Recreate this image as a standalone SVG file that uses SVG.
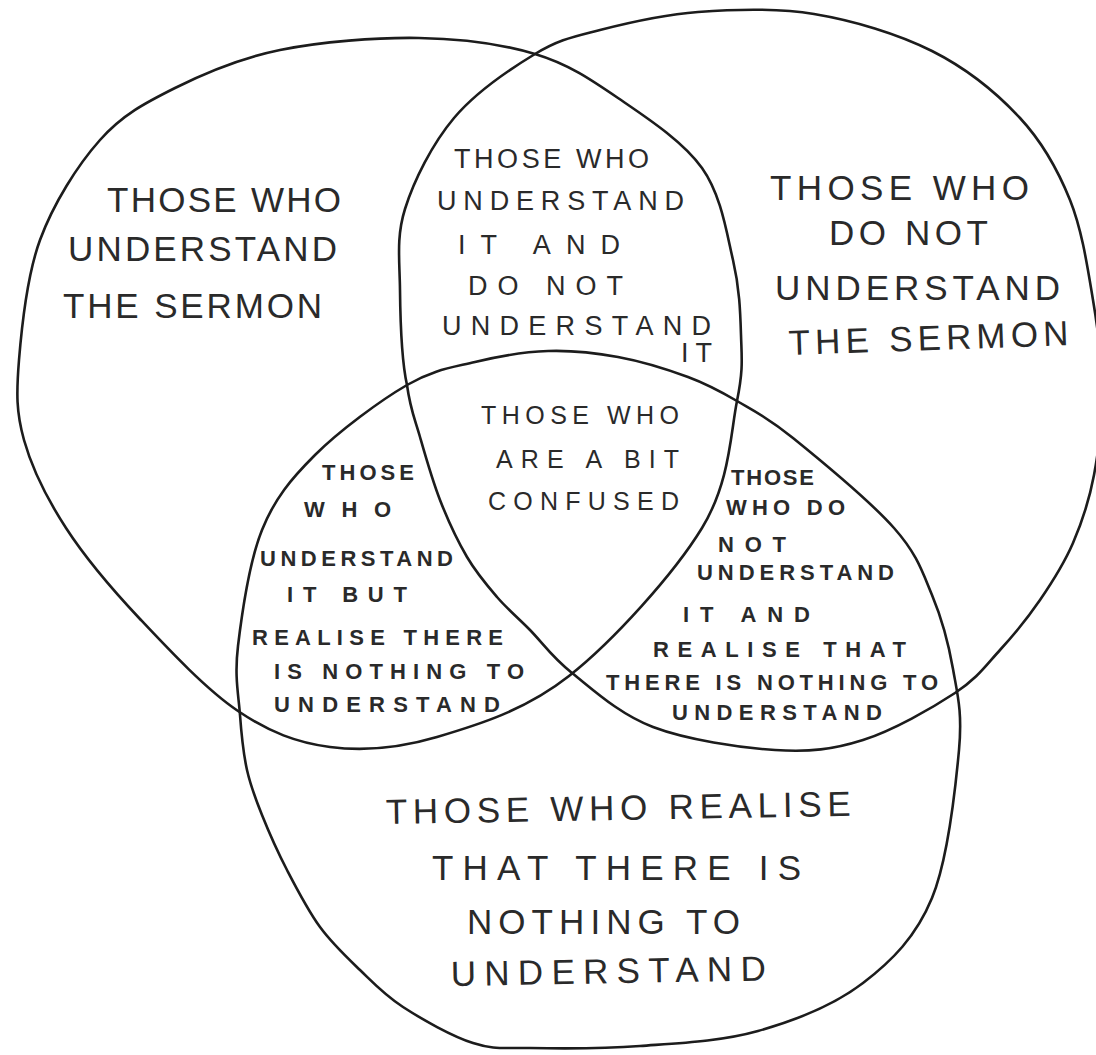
<svg xmlns="http://www.w3.org/2000/svg" width="1096" height="1055" viewBox="0 0 1096 1055">
<style>
.set{fill:none;stroke:#1c1c1c;stroke-width:2.6;stroke-linejoin:round;stroke-linecap:round}
.t{font-family:"Liberation Sans",Arial,sans-serif;fill:#2a2a2a;}
.xl{font-size:35px}
.l{font-size:27px}
.m{font-size:25px}
.s{font-size:22px;font-weight:bold}
</style>
<rect width="1096" height="1055" fill="#ffffff"/>
<g id="connectors">
<path id="set-understand" class="set" d="M 419 38 C 461.5 38.7, 501.8 44, 535 54 C 568.2 64, 590.2 79, 618 98 C 645.8 117, 682.8 141, 702 168 C 721.2 195, 726.5 232.2, 733 260 C 739.5 287.8, 740.3 311.5, 741 335 C 741.7 358.5, 743.5 368.8, 737 401 C 730.5 433.2, 730 482.2, 702 528 C 674 573.8, 613.2 641.2, 569 676 C 524.8 710.8, 476.8 725.2, 437 737 C 397.2 748.8, 363.2 751.3, 330 747 C 296.8 742.7, 269.7 732.3, 238 711 C 206.3 689.7, 168.7 649.5, 140 619 C 111.3 588.5, 85.3 557.8, 66 528 C 46.7 498.2, 31.8 468, 24 440 C 16.2 412, 16.3 393.3, 19 360 C 21.7 326.7, 26.5 276.7, 40 240 C 53.5 203.3, 77.5 165.3, 100 140 C 122.5 114.7, 145 103, 175 88 C 205 73, 239.3 58.3, 280 50 C 320.7 41.7, 376.5 37.3, 419 38 Z"/>
<path id="set-not-understand" class="set" d="M 535 54 C 559.3 39.3, 572.8 37, 600 30 C 627.2 23, 662.3 14.7, 698 12 C 733.7 9.3, 775 7.5, 814 14 C 853 20.5, 897.7 33.7, 932 51 C 966.3 68.3, 997 93.2, 1020 118 C 1043 142.8, 1057.8 169.7, 1070 200 C 1082.2 230.3, 1087.7 268.3, 1093 300 C 1098.3 331.7, 1101.8 360.8, 1102 390 C 1102.2 419.2, 1098.8 449.5, 1094 475 C 1089.2 500.5, 1082 522.2, 1073 543 C 1064 563.8, 1052.2 582.2, 1040 600 C 1027.8 617.8, 1014.2 634.5, 1000 650 C 985.8 665.5, 977.8 678, 955 693 C 932.2 708, 893 730.5, 863 740 C 833 749.5, 810 752.2, 775 750 C 740 747.8, 686.8 739.8, 653 727 C 619.2 714.2, 592.5 689.2, 572 673 C 551.5 656.8, 542.5 642.7, 530 630 C 517.5 617.3, 507.5 609.2, 497 597 C 486.5 584.8, 476.5 573.2, 467 557 C 457.5 540.8, 447.8 520, 440 500 C 432.2 480, 425.5 456.2, 420 437 C 414.5 417.8, 410.3 409.5, 407 385 C 401.5 360.5, 400.3 319.3, 400 290 C 399.7 260.7, 396 237.7, 405 209 C 414 180.3, 432.3 143.8, 454 118 C 475.7 92.2, 510.7 68.7, 535 54 Z"/>
<path id="set-realise" class="set" d="M 548 351 C 571.8 350.2, 594.7 352.7, 618 357 C 641.3 361.3, 668.2 369.7, 688 377 C 707.8 384.3, 719.5 390.8, 737 401 C 754.5 411.2, 766.8 416.8, 793 438 C 819.2 459.2, 870.8 501.8, 894 528 C 917.2 554.2, 922.2 571.5, 932 595 C 941.8 618.5, 948.5 643.2, 953 669 C 957.5 694.8, 962.5 711.8, 959 750 C 955.5 788.2, 948 859.2, 932 898 C 916 936.8, 892 960.8, 863 983 C 834 1005.2, 795.2 1020.5, 758 1031 C 720.8 1041.5, 678 1043.2, 640 1046 C 602 1048.8, 557.8 1048.5, 530 1048 C 502.2 1047.5, 494.2 1049.8, 473 1043 C 451.8 1036.2, 421.8 1019.2, 403 1007 C 384.2 994.8, 373.8 983.3, 360 970 C 346.2 956.7, 332.2 943.7, 320 927 C 307.8 910.3, 296.7 888.7, 287 870 C 277.3 851.3, 268.7 831.7, 262 815 C 255.3 798.3, 250.7 786.7, 247 770 C 243.3 753.3, 241.5 735.7, 240 715 C 238.5 694.3, 234.3 676.8, 238 646 C 241.7 615.2, 249.2 561.8, 262 530 C 274.8 498.2, 290.8 479.2, 315 455 C 339.2 430.8, 380.3 400.5, 407 385 C 433.7 369.5, 451.5 367.7, 475 362 C 498.5 356.3, 524.2 351.8, 548 351 Z"/>
</g>
<g id="node-understand" class="t xl">
<text x="107" y="212" textLength="234" lengthAdjust="spacing">THOSE WHO</text>
<text x="68" y="261" textLength="269" lengthAdjust="spacing">UNDERSTAND</text>
<text x="63" y="318" textLength="259" lengthAdjust="spacing">THE SERMON</text>
</g>
<g id="node-not-understand" class="t xl">
<text x="770" y="200" textLength="259" lengthAdjust="spacing">THOSE WHO</text>
<text x="829" y="245" textLength="159" lengthAdjust="spacing">DO NOT</text>
<text x="775" y="300" textLength="285" lengthAdjust="spacing">UNDERSTAND</text>
<text x="789" y="355" textLength="280" lengthAdjust="spacing" transform="rotate(-2 789 355)">THE SERMON</text>
</g>
<g id="node-both" class="t l">
<text x="454" y="168" textLength="195" lengthAdjust="spacing">THOSE WHO</text>
<text x="437" y="210" textLength="247" lengthAdjust="spacing">UNDERSTAND</text>
<text x="458" y="254" textLength="162" lengthAdjust="spacing">IT AND</text>
<text x="468" y="295" textLength="155" lengthAdjust="spacing">DO NOT</text>
<text x="442" y="335" textLength="269" lengthAdjust="spacing">UNDERSTAND</text>
<text x="681" y="362" textLength="31" lengthAdjust="spacing">IT</text>
</g>
<g id="node-confused" class="t m">
<text x="481" y="424" textLength="198" lengthAdjust="spacing">THOSE WHO</text>
<text x="496" y="468" textLength="183" lengthAdjust="spacing">ARE A BIT</text>
<text x="488" y="510" textLength="191" lengthAdjust="spacing">CONFUSED</text>
</g>
<g id="node-understand-realise" class="t s">
<text x="322" y="480" textLength="92" lengthAdjust="spacing">THOSE</text>
<text x="304" y="517" textLength="87" lengthAdjust="spacing">WHO</text>
<text x="260" y="566" textLength="193" lengthAdjust="spacing">UNDERSTAND</text>
<text x="287" y="602" textLength="120" lengthAdjust="spacing">IT BUT</text>
<text x="252" y="645" textLength="251" lengthAdjust="spacing">REALISE THERE</text>
<text x="274" y="679" textLength="250" lengthAdjust="spacing">IS NOTHING TO</text>
<text x="274" y="712" textLength="226" lengthAdjust="spacing">UNDERSTAND</text>
</g>
<g id="node-not-understand-realise" class="t s">
<text x="731" y="485" textLength="83" lengthAdjust="spacing">THOSE</text>
<text x="726" y="515" textLength="119" lengthAdjust="spacing">WHO DO</text>
<text x="718" y="552" textLength="68" lengthAdjust="spacing">NOT</text>
<text x="697" y="580" textLength="197" lengthAdjust="spacing">UNDERSTAND</text>
<text x="683" y="622" textLength="127" lengthAdjust="spacing">IT AND</text>
<text x="653" y="657" textLength="253" lengthAdjust="spacing">REALISE THAT</text>
<text x="606" y="690" textLength="332" lengthAdjust="spacing">THERE IS NOTHING TO</text>
<text x="672" y="720" textLength="210" lengthAdjust="spacing">UNDERSTAND</text>
</g>
<g id="node-realise" class="t xl">
<text x="386" y="824" textLength="465" lengthAdjust="spacing" transform="rotate(-1 386 824)">THOSE WHO REALISE</text>
<text x="432" y="880" textLength="369" lengthAdjust="spacing">THAT THERE IS</text>
<text x="467" y="934" textLength="273" lengthAdjust="spacing">NOTHING TO</text>
<text x="451" y="986" textLength="315" lengthAdjust="spacing" transform="rotate(-1 451 986)">UNDERSTAND</text>
</g>
</svg>
